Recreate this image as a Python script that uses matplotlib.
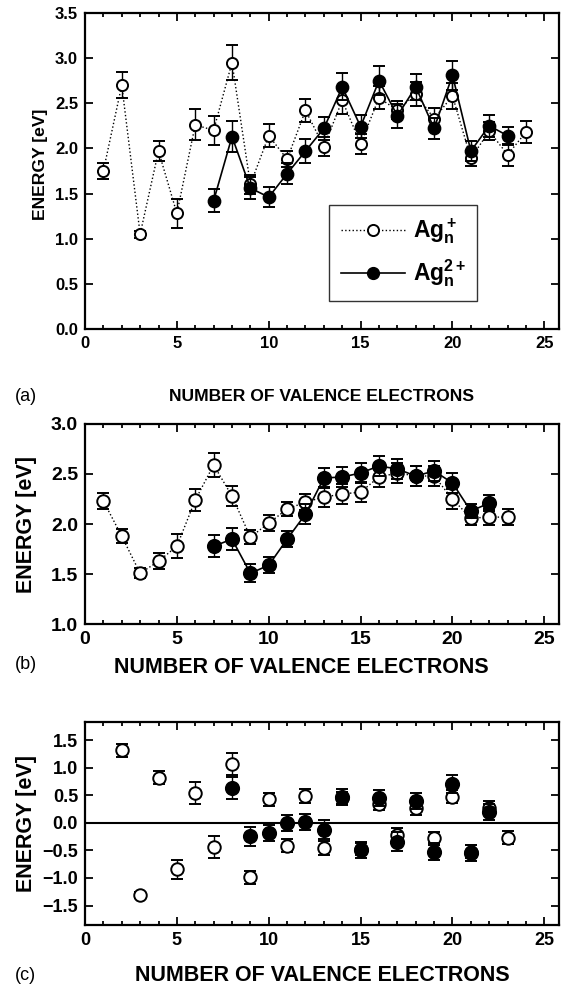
import matplotlib
matplotlib.use("Agg")
import matplotlib.pyplot as plt
from matplotlib.lines import Line2D
from matplotlib.ticker import MultipleLocator

plt.rcParams['font.family'] = ['Liberation Sans', 'DejaVu Sans']
plt.rcParams['mathtext.fontset'] = 'custom'
plt.rcParams['mathtext.rm'] = 'Liberation Sans:bold'
plt.rcParams['mathtext.it'] = 'Liberation Sans:bold'
plt.rcParams['mathtext.bf'] = 'Liberation Sans:bold'

# panel (a)
n_plus_a = list(range(1, 25))
e_plus_a = [1.75, 2.70, 1.05, 1.97, 1.28, 2.26, 2.20, 2.95, 1.60, 2.14, 1.88, 2.42,
            2.02, 2.53, 2.05, 2.56, 2.42, 2.60, 2.33, 2.58, 1.89, 2.19, 1.93, 2.18]
err_plus_a = [0.09, 0.14, 0.04, 0.11, 0.16, 0.17, 0.16, 0.19, 0.10, 0.13, 0.09, 0.13,
              0.11, 0.15, 0.11, 0.13, 0.10, 0.13, 0.12, 0.14, 0.08, 0.10, 0.12, 0.12]
n_2plus_a = list(range(7, 24))
e_2plus_a = [1.42, 2.13, 1.56, 1.46, 1.72, 1.97, 2.22, 2.68, 2.24, 2.75, 2.36, 2.68,
             2.22, 2.81, 1.97, 2.25, 2.14]
err_2plus_a = [0.13, 0.17, 0.12, 0.11, 0.12, 0.13, 0.13, 0.15, 0.13, 0.16, 0.13, 0.14,
               0.12, 0.16, 0.11, 0.12, 0.10]

# panel (b)
n_plus_b = list(range(1, 24))
e_plus_b = [2.23, 1.88, 1.51, 1.63, 1.78, 2.24, 2.59, 2.28, 1.87, 2.01, 2.15, 2.22,
            2.27, 2.30, 2.32, 2.47, 2.51, 2.48, 2.48, 2.25, 2.06, 2.07, 2.07]
err_plus_b = [0.08, 0.07, 0.05, 0.08, 0.12, 0.11, 0.12, 0.10, 0.07, 0.08, 0.07, 0.08,
              0.10, 0.10, 0.10, 0.10, 0.10, 0.10, 0.10, 0.10, 0.07, 0.08, 0.08]
n_2plus_b = list(range(7, 23))
e_2plus_b = [1.78, 1.85, 1.51, 1.59, 1.85, 2.10, 2.46, 2.47, 2.51, 2.58, 2.55, 2.48,
             2.53, 2.41, 2.13, 2.21]
err_2plus_b = [0.11, 0.11, 0.09, 0.08, 0.08, 0.10, 0.10, 0.10, 0.10, 0.10, 0.10, 0.10,
               0.10, 0.10, 0.07, 0.08]

# panel (c)
n_plus_c = list(range(2, 24))
e_plus_c = [1.32, -1.31, 0.82, -0.84, 0.54, -0.43, 1.07, -0.99, 0.43, -0.41, 0.49,
            -0.46, 0.45, -0.47, 0.35, -0.22, 0.27, -0.28, 0.48, -0.52, 0.28, -0.27]
err_plus_c = [0.12, 0.06, 0.12, 0.17, 0.20, 0.20, 0.20, 0.12, 0.12, 0.12, 0.12,
              0.13, 0.12, 0.12, 0.12, 0.12, 0.12, 0.12, 0.12, 0.12, 0.12, 0.12]
n_2plus_c = list(range(8, 23))
e_2plus_c = [0.64, -0.24, -0.18, 0.0, 0.02, -0.12, 0.48, -0.50, 0.45, -0.34, 0.40,
             -0.52, 0.71, -0.55, 0.20]
err_2plus_c = [0.20, 0.17, 0.15, 0.15, 0.15, 0.17, 0.13, 0.13, 0.15, 0.17, 0.15,
               0.15, 0.17, 0.15, 0.15]

fig = plt.figure(figsize=(5.63, 9.88), dpi=100)
ax_a = fig.add_axes([0.151, 0.667, 0.842, 0.320])
ax_b = fig.add_axes([0.151, 0.368, 0.842, 0.203])
ax_c = fig.add_axes([0.151, 0.064, 0.842, 0.205])


def style_axes(ax, tick_size, label_size, lw):
    for s in ax.spines.values():
        s.set_linewidth(lw)
    ax.set_xlim(0, 25.8)
    ax.xaxis.set_major_locator(MultipleLocator(5))
    ax.xaxis.set_minor_locator(MultipleLocator(1))
    ax.tick_params(which='both', direction='in', top=True, right=True,
                   labelsize=tick_size, width=lw * 0.8)
    ax.tick_params(which='major', length=6, pad=5)
    ax.tick_params(which='minor', length=3)
    for lab in ax.get_xticklabels() + ax.get_yticklabels():
        lab.set_fontweight('bold')
    ax.set_xlabel("NUMBER OF VALENCE ELECTRONS", fontsize=label_size, fontweight='bold')
    ax.set_ylabel("ENERGY [eV]", fontsize=label_size, fontweight='bold')


def draw(ax, n, e, err, ms, ls, filled):
    ax.errorbar(n, e, yerr=err, color='black', ls=ls, lw=1.0 if ls == ':' else 1.2,
                marker='o', ms=ms, mfc='black' if filled else 'white', mec='black',
                mew=1.4, capsize=4.5, elinewidth=1.0, capthick=1.0,
                zorder=3 if filled else 2)


# (a)
draw(ax_a, n_plus_a, e_plus_a, err_plus_a, 8, ':', False)
draw(ax_a, n_2plus_a, e_2plus_a, err_2plus_a, 8.5, '-', True)
ax_a.set_ylim(0, 3.5)
ax_a.yaxis.set_major_locator(MultipleLocator(0.5))
ax_a.yaxis.set_major_formatter('{x:.1f}')
style_axes(ax_a, 12, 12.6, 1.6)
handles = [Line2D([], [], color='black', ls=':', lw=1.0, marker='o', ms=8,
                  mfc='white', mec='black', mew=1.4),
           Line2D([], [], color='black', ls='-', lw=1.2, marker='o', ms=8.5,
                  mfc='black', mec='black')]
labels = [r'Ag$_{\rm n}^{\rm +}$', r'Ag$_{\rm n}^{\rm 2+}$']
leg = ax_a.legend(handles, labels, loc='upper left', bbox_to_anchor=(0.515, 0.392),
                  prop={'size': 16.5, 'weight': 'bold'}, borderaxespad=0,
                  frameon=True, fancybox=False, edgecolor='black', borderpad=0.5,
                  handlelength=2.8, handletextpad=0.35, labelspacing=0.5)
leg.get_frame().set_linewidth(1.0)
ax_a.xaxis.set_label_coords(0.5, -0.19)
ax_a.yaxis.set_label_coords(-0.078, 0.52)
fig.text(0.027, 0.599, "(a)", fontsize=13, va='center')

# (b)
draw(ax_b, n_plus_b, e_plus_b, err_plus_b, 9, ':', False)
draw(ax_b, n_2plus_b, e_2plus_b, err_2plus_b, 9.5, '-', True)
ax_b.set_ylim(1.0, 3.0)
ax_b.yaxis.set_major_locator(MultipleLocator(0.5))
ax_b.yaxis.set_major_formatter('{x:.1f}')
style_axes(ax_b, 14, 15.5, 1.6)
ax_b.xaxis.set_label_coords(0.456, -0.16)
ax_b.yaxis.set_label_coords(-0.101, 0.5)
fig.text(0.027, 0.327, "(b)", fontsize=13, va='center')

# (c)
ax_c.axhline(0, color='black', lw=1.5, zorder=1)
draw(ax_c, n_plus_c, e_plus_c, err_plus_c, 9, 'none', False)
draw(ax_c, n_2plus_c, e_2plus_c, err_2plus_c, 9.5, 'none', True)
ax_c.set_ylim(-1.85, 1.83)
ax_c.yaxis.set_major_locator(MultipleLocator(0.5))
ax_c.yaxis.set_major_formatter('{x:.1f}')
style_axes(ax_c, 13, 15.5, 1.6)
ax_c.xaxis.set_label_coords(0.5, -0.2)
ax_c.yaxis.set_label_coords(-0.101, 0.5)
fig.text(0.027, 0.013, "(c)", fontsize=13, va='center')

fig.savefig("out.png", dpi=100)
